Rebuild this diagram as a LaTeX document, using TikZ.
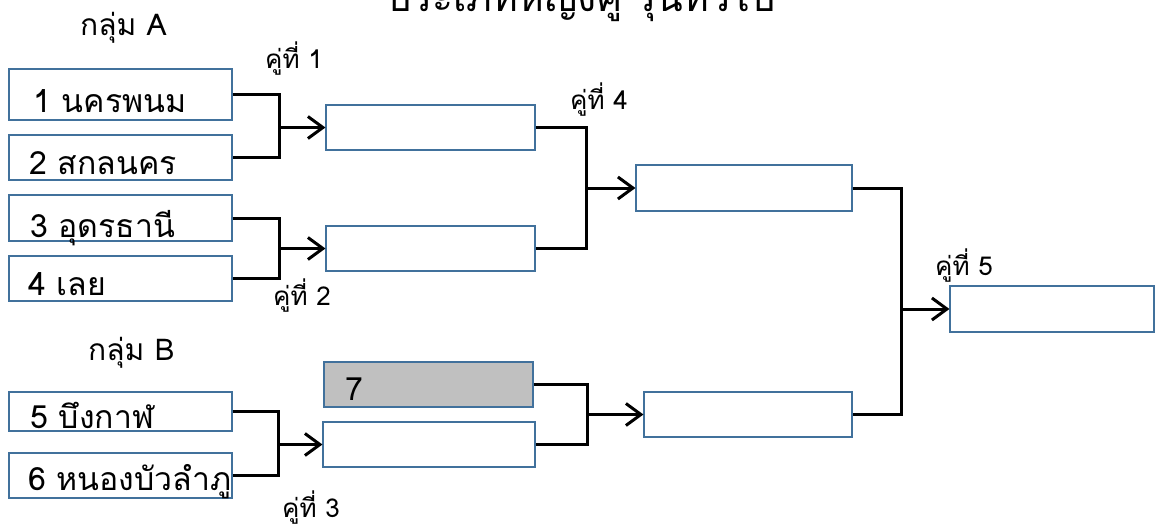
\documentclass[tikz,border=0pt]{standalone}
\usepackage{fontspec}
\setmainfont[Script=Thai]{Loma}
\usetikzlibrary{arrows.meta,calc}
\definecolor{boxblue}{HTML}{41719C}
\definecolor{boxgrey}{HTML}{C0C0C0}
\tikzset{
  team/.style={draw=boxblue, line width=1.1pt, fill=white, rectangle, inner sep=0pt, minimum width=223pt},
  rbox/.style={draw=boxblue, line width=1.1pt, fill=white, rectangle, inner sep=0pt, minimum height=45pt},
  link/.style={line width=3pt, black},
  arr/.style={link, -{Straight Barb[length=15pt,width=22pt]}},
  boxtxt/.style={anchor=base west, inner sep=0pt, font=\fontsize{32}{36}\selectfont},
  grptxt/.style={anchor=base west, inner sep=0pt, font=\fontsize{30}{34}\selectfont},
  pairtxt/.style={anchor=base west, inner sep=0pt, font=\fontsize{26}{30}\selectfont},
}
\begin{document}
\begin{tikzpicture}[x=1pt,y=-1pt]
\useasboundingbox (0,0) rectangle (1159,527);
% title (only lower part visible, as in the reference)
\node[anchor=base, inner sep=0pt, font=\fontsize{39}{44}\selectfont] (title) at (581,12) {ประเภทหญิงคู่ รุ่นทั่วไป};
% group labels
\node[grptxt] (gA) at (80,36) {กลุ่ม A};
\node[grptxt] (gB) at (88,360) {กลุ่ม B};
% team boxes
\node[team, minimum height=51pt] (b1) at (120.5,94.5) {};
\node[team, minimum height=45pt] (b2) at (120.5,157.5) {};
\node[team, minimum height=46pt] (b3) at (120.5,218) {};
\node[team, minimum height=45pt] (b4) at (120.5,278.5) {};
\node[team, minimum height=39pt] (b5) at (120.5,411.5) {};
\node[team, minimum height=45pt] (b6) at (120.5,475.5) {};
\node[boxtxt] (t1) at (33,112) {1 นครพนม};
\node[boxtxt] (t2) at (29,174) {2 สกลนคร};
\node[boxtxt] (t3) at (30,237) {3 อุดรธานี};
\node[boxtxt] (t4) at (28,295) {4 เลย};
\node[boxtxt] (t5) at (30,428) {5 บึงกาฬ};
\node[boxtxt] (t6) at (28,490) {6 หนองบัวลำภู};
% later-round boxes
\node[rbox, minimum width=209pt] (r1) at (430.5,127.5) {};
\node[rbox, minimum width=209pt] (r2) at (430.5,248.5) {};
\node[rbox, minimum width=209pt, fill=boxgrey] (g7) at (428.5,384.5) {};
\node[boxtxt] (t7) at (345,400) {7};
\node[rbox, minimum width=212pt] (r4) at (429,444.5) {};
\node[rbox, minimum width=216pt, minimum height=46pt] (r3) at (744,188) {};
\node[rbox, minimum width=208pt] (r5) at (748,414.5) {};
\node[rbox, minimum width=204pt, minimum height=46pt] (r6) at (1052,309) {};
% pair labels
\node[pairtxt] (p1) at (265,68) {คู่ที่ 1};
\node[pairtxt] (p2) at (273,305) {คู่ที่ 2};
\node[pairtxt] (p3) at (282,517) {คู่ที่ 3};
\node[pairtxt] (p4) at (570,109) {คู่ที่ 4};
\node[pairtxt] (p5) at (935,275) {คู่ที่ 5};
% vertical line positions
\coordinate (v1) at (279,0);
\coordinate (v2) at (279,0);
\coordinate (v3) at (278,0);
\coordinate (v4) at (586,0);
\coordinate (v5) at (587,0);
\coordinate (v6) at (901,0);
% connectors
\draw[link] (b1.east) -| (v1 |- b2.east) -- (b2.east);
\draw[arr] (v1 |- r1.west) -- (r1.west);
\draw[link] (b3.east) -| (v2 |- b4.east) -- (b4.east);
\draw[arr] (v2 |- r2.west) -- (r2.west);
\draw[link] (b5.east) -| (v3 |- b6.east) -- (b6.east);
\draw[arr] (v3 |- r4.west) -- (r4.west);
\draw[link] (r1.east) -| (v4 |- r2.east) -- (r2.east);
\draw[arr] (v4 |- r3.west) -- (r3.west);
\draw[link] (g7.east) -| (v5 |- r4.east) -- (r4.east);
\draw[arr] (v5 |- r5.west) -- (r5.west);
\draw[link] (r3.east) -| (v6 |- r5.east) -- (r5.east);
\draw[arr] (v6 |- r6.west) -- (r6.west);
\end{tikzpicture}
\end{document}
